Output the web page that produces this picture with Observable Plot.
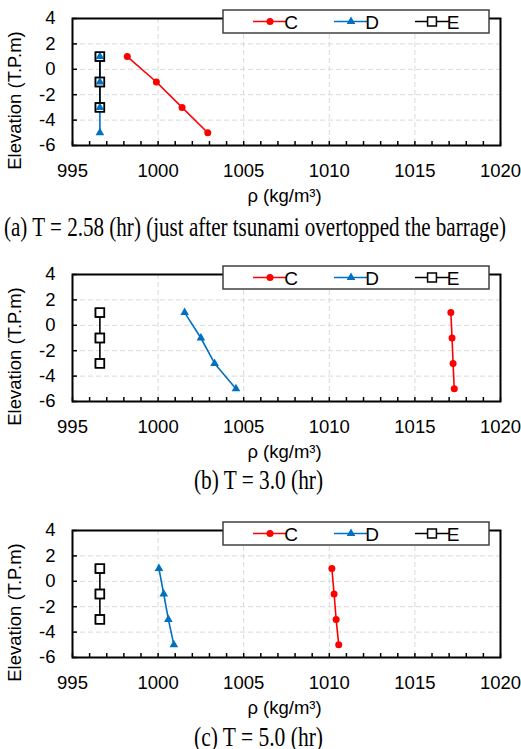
<!DOCTYPE html>
<html><head><meta charset="utf-8">
<script src="https://cdn.jsdelivr.net/npm/d3@7"></script>
<script src="https://cdn.jsdelivr.net/npm/@observablehq/plot@0.6"></script>
<style>
html,body{margin:0;padding:0;background:#fff;}
#wrap{position:relative;width:521px;height:749px;overflow:hidden;background:#fff;}
#wrap > svg{position:absolute;left:0;}
</style></head><body><div id="wrap"></div>
<script>
// ---- data ----
const series = ["C", "D", "E"];
const seriesColors = ["#ff0000", "#0070c0", "#000000"];
const elevCD = [1, -1, -3, -5];
const elevE = [1, -1, -3];
const captions = [
  "(a) T = 2.58 (hr) (just after tsunami overtopped the barrage)",
  "(b) T = 3.0 (hr)",
  "(c) T = 5.0 (hr)"
];
const rhoC_a = [998.2, 999.9, 1001.4, 1002.9];
const rhoD_a = [996.6, 996.6, 996.6, 996.6];
const rhoE_a = [996.6, 996.6, 996.6];
const rhoC_b = [1017.1, 1017.17, 1017.23, 1017.3];
const rhoD_b = [1001.55, 1002.5, 1003.3, 1004.55];
const rhoE_b = [996.6, 996.6, 996.6];
const rhoC_c = [1010.15, 1010.28, 1010.4, 1010.55];
const rhoD_c = [1000.05, 1000.33, 1000.6, 1000.92];
const rhoE_c = [996.6, 996.6, 996.6];
const xTickLabels = [995, 1000, 1005, 1010, 1015, 1020];
const yTickLabels = [-6, -4, -2, 0, 2, 4];
const xMinorTicks = [995,996,997,998,999,1000,1001,1002,1003,1004,1005,1006,1007,1008,1009,1010,1011,1012,1013,1014,1015,1016,1017,1018,1019,1020];
const xGrid = [1000, 1005, 1010, 1015];
const yGrid = [-4, -2, 0, 2];
const xLabel = "ρ (kg/m³)";
const yLabel = "Elevation (T.P.m)";

const panels = [
  {C: rhoC_a, D: rhoD_a, E: rhoE_a},
  {C: rhoC_b, D: rhoD_b, E: rhoE_b},
  {C: rhoC_c, D: rhoD_c, E: rhoE_c}
];

// ---- layout ----
const panelTops = [0, 256, 512];
const capBaselines = [236, 489, 746];
const capX = [4, 194, 194];
const capW = [502, 129, 129];
const W = 521, H = 210, MT = 18, MB = 65, ML = 72, MR = 21;
const FONT = "'Liberation Sans', Arial, Helvetica, sans-serif";
const FS = 18.5;

function legendMark(index, scales, values, dims) {
  const g = d3.create("svg:g");
  const right = dims.width - dims.marginRight - 11;
  const bw = 266, bh = 23;
  const left = right - bw;
  const top = dims.marginTop - 8;
  const cy = dims.marginTop + 3.5;
  g.append("rect").attr("x", left).attr("y", top).attr("width", bw).attr("height", bh)
    .attr("fill", "#fff").attr("stroke", "#404040").attr("stroke-width", 1.5);
  const syms = [d3.symbolCircle, d3.symbolTriangle, d3.symbolSquare];
  const sizes = [Math.PI * 3.5 * 3.5, Math.PI * 3.2 * 3.2, Math.PI * 25];
  series.forEach((s, k) => {
    const x0 = left + 30 + k * 81;
    g.append("line").attr("x1", x0).attr("x2", x0 + 34).attr("y1", cy).attr("y2", cy)
      .attr("stroke", seriesColors[k]).attr("stroke-width", 1.5);
    g.append("path").attr("d", d3.symbol(syms[k], sizes[k])())
      .attr("transform", `translate(${x0 + 17},${cy})`)
      .attr("fill", k === 2 ? "#fff" : seriesColors[k])
      .attr("stroke", k === 2 ? "#000" : "none").attr("stroke-width", 1.5);
    g.append("text").attr("x", x0 + 38).attr("y", cy + 7).attr("font-size", 19)
      .attr("font-family", FONT).attr("fill", "#000").text(s);
  });
  return g.node();
}

function makePanel(p) {
  const rows = [];
  series.forEach(s => {
    const el = s === "E" ? elevE : elevCD;
    p[s].forEach((v, j) => rows.push({s, rho: v, elev: el[j]}));
  });
  const fw = W - ML - MR, fh = H - MT - MB;
  const rowsOf = s => rows.filter(r => r.s === s);
  return Plot.plot({
    width: W, height: H, marginTop: MT, marginBottom: MB, marginLeft: ML, marginRight: MR,
    style: {fontFamily: FONT, fontSize: FS + "px", color: "#000", background: "transparent", overflow: "visible"},
    x: {domain: [995, 1020]},
    y: {domain: [-6, 4]},
    color: {domain: series, range: seriesColors},
    marks: [
      Plot.ruleX(xGrid, {stroke: "#d9d9d9", strokeWidth: 1, strokeDasharray: "5,3"}),
      Plot.ruleY(yGrid, {stroke: "#d9d9d9", strokeWidth: 1, strokeDasharray: "5,3"}),
      Plot.ruleX(xMinorTicks, {stroke: "#000", strokeWidth: 1.5, insetTop: fh - 4}),
      Plot.ruleY(yTickLabels, {stroke: "#000", strokeWidth: 1.5, insetRight: fw - 5}),
      Plot.axisX({ticks: xTickLabels, tickSize: 0, tickPadding: 18, tickFormat: d => String(d), label: null, fontSize: FS}),
      Plot.axisY({ticks: yTickLabels, tickSize: 0, tickPadding: 17, tickFormat: d => String(d), label: null, fontSize: FS}),
      Plot.frame({stroke: "#000", strokeWidth: 2}),
      Plot.line(rows, {x: "rho", y: "elev", z: "s", stroke: "s", strokeWidth: 1.6}),
      Plot.dot(rowsOf("E"), {x: "rho", y: "elev", symbol: "square", r: 5, fill: "#fff", stroke: "#000", strokeWidth: 1.5}),
      Plot.dot(rowsOf("D"), {x: "rho", y: "elev", symbol: "triangle", r: 3.2, fill: seriesColors[1]}),
      Plot.dot(rowsOf("E"), {x: "rho", y: "elev", symbol: "square", r: 5, fill: "none", stroke: "#000", strokeWidth: 1.5}),
      Plot.dot(rowsOf("C"), {x: "rho", y: "elev", symbol: "circle", r: 3.5, fill: seriesColors[0]}),
      Plot.text([xLabel], {frameAnchor: "bottom", textAnchor: "middle", lineAnchor: "middle", dx: -2, dy: 51, fontSize: FS, fill: "#000"}),
      Plot.text([yLabel], {frameAnchor: "left", textAnchor: "middle", lineAnchor: "middle", dx: -57, dy: 18.5, rotate: -90, fontSize: FS, fill: "#000"}),
      legendMark
    ]
  });
}

const wrap = document.getElementById("wrap");
panels.forEach((p, i) => {
  const svg = makePanel(p);
  svg.style.position = "absolute";
  svg.style.top = panelTops[i] + "px";
  svg.style.left = "0px";
  wrap.appendChild(svg);
});

// captions
const cap = d3.create("svg").attr("width", W).attr("height", 749)
  .style("position", "absolute").style("top", "0px").style("left", "0px").style("overflow", "visible");
captions.forEach((t, i) => {
  cap.append("text").attr("x", capX[i]).attr("y", capBaselines[i])
    .attr("font-family", "'Liberation Serif', 'Times New Roman', serif").attr("font-size", 27)
    .attr("textLength", capW[i]).attr("lengthAdjust", "spacingAndGlyphs")
    .attr("fill", "#000").text(t);
});
wrap.appendChild(cap.node());
</script>
</body></html>
